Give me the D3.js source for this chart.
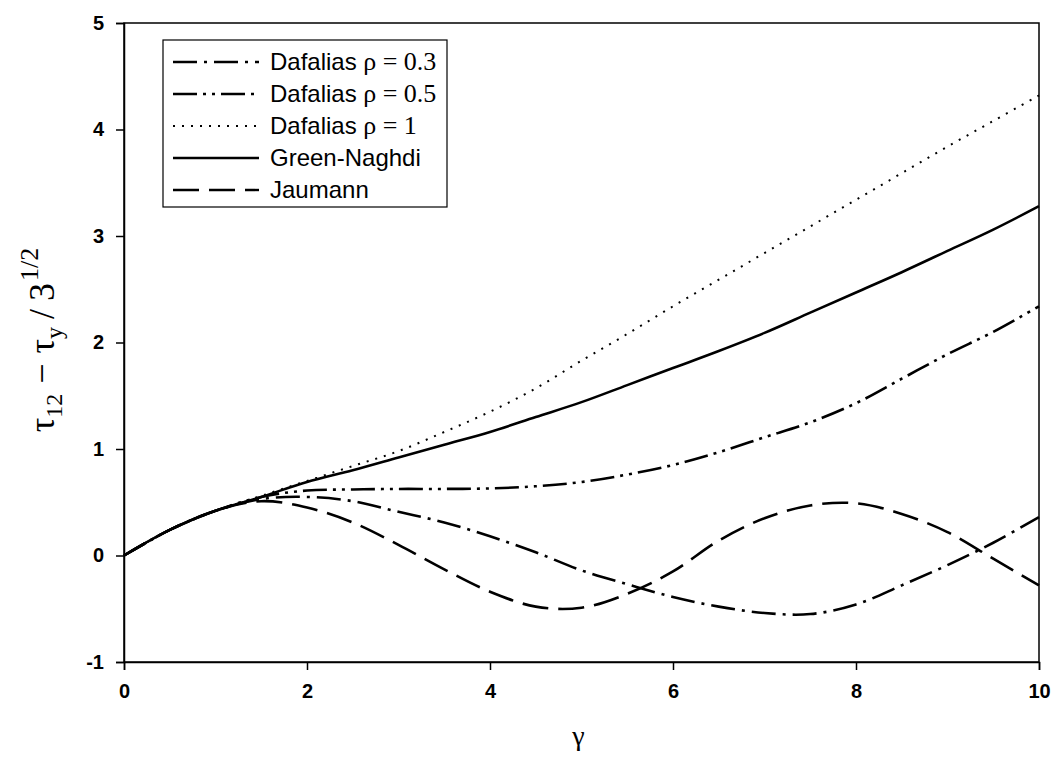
<!DOCTYPE html>
<html>
<head>
<meta charset="utf-8">
<script src="https://cdn.jsdelivr.net/npm/d3@7"></script>
<style>
  body { margin: 0; background: #fff; }
  svg { display: block; }
</style>
</head>
<body>
<svg id="chart" width="1053" height="758"></svg>
<script>
// gamma grid shared by every curve
const gamma = [0, 0.5, 1, 1.5, 2, 2.5, 3, 3.5, 4, 4.5, 5, 5.5, 6, 6.5, 7, 7.5, 8, 8.5, 9, 9.5, 10];

const dafalias03 = [0, 0.24, 0.42, 0.53, 0.55, 0.51, 0.41, 0.31, 0.18, 0.03, -0.14, -0.27, -0.39, -0.48, -0.54, -0.55, -0.46, -0.28, -0.09, 0.12, 0.36];
const dafalias05 = [0, 0.24, 0.42, 0.55, 0.61, 0.62, 0.625, 0.625, 0.63, 0.65, 0.69, 0.76, 0.85, 0.97, 1.11, 1.25, 1.43, 1.66, 1.89, 2.10, 2.34];
const dafalias1 = [0, 0.24, 0.42, 0.56, 0.70, 0.84, 0.98, 1.16, 1.35, 1.57, 1.83, 2.08, 2.34, 2.59, 2.84, 3.09, 3.34, 3.59, 3.84, 4.08, 4.32];
const greenNaghdi = [0, 0.24, 0.42, 0.55, 0.69, 0.80, 0.92, 1.04, 1.16, 1.30, 1.44, 1.60, 1.76, 1.92, 2.09, 2.28, 2.47, 2.66, 2.86, 3.06, 3.28];
const jaumann = [0, 0.24, 0.42, 0.51, 0.45, 0.31, 0.10, -0.13, -0.34, -0.48, -0.49, -0.36, -0.15, 0.14, 0.35, 0.47, 0.49, 0.39, 0.22, -0.03, -0.28];

const xTicks = [0, 2, 4, 6, 8, 10];
const yTicks = [-1, 0, 1, 2, 3, 4, 5];

const seriesNames = ['Dafalias', 'Dafalias', 'Dafalias', 'Green-Naghdi', 'Jaumann'];
const seriesRho = ['ρ = 0.3', 'ρ = 0.5', 'ρ = 1', null, null];
const seriesValues = [dafalias03, dafalias05, dafalias1, greenNaghdi, jaumann];
const seriesDash = ['24,7,3,7', '24,6,3,6,3,6', '2,7', null, '26,10'];

const svg = d3.select('#chart');
const margin = {top: 23, right: 14, bottom: 96, left: 124};
const width = 1053 - margin.left - margin.right;
const height = 758 - margin.top - margin.bottom;

const g = svg.append('g').attr('transform', `translate(${margin.left},${margin.top})`);

const x = d3.scaleLinear().domain([0, 10]).range([0, width]);
const y = d3.scaleLinear().domain([-1, 5]).range([height, 0]);

// frame
g.append('rect')
    .attr('width', width).attr('height', height)
    .attr('fill', 'none').attr('stroke', '#000').attr('stroke-width', 1.5);

let xaxis = g.append('g')
    .attr('transform', `translate(0,${height})`)
    .call(d3.axisBottom(x).tickValues(xTicks).tickSize(8).tickPadding(14).tickFormat(d => String(d)));
let yaxis = g.append('g')
    .call(d3.axisLeft(y).tickValues(yTicks).tickSize(8).tickPadding(12).tickFormat(d => String(d)));

for (let ax of [xaxis, yaxis]) {
    ax.select('.domain').attr('stroke', '#000').attr('stroke-width', 1.5);
    ax.selectAll('.tick line').attr('stroke', '#000').attr('stroke-width', 1.5);
    ax.selectAll('.tick text')
        .attr('fill', '#000')
        .attr('font-family', 'Liberation Sans, Arial, sans-serif')
        .attr('font-weight', 'bold')
        .attr('font-size', 20);
}

// curves
const line = d3.line()
    .x((d, i) => x(gamma[i]))
    .y(d => y(d))
    .curve(d3.curveCatmullRom.alpha(0.5));

seriesValues.forEach((vals, k) => {
    g.append('path')
        .datum(vals)
        .attr('d', line)
        .attr('fill', 'none')
        .attr('stroke', '#000')
        .attr('stroke-width', k == 2 ? 2 : 2.6)
        .attr('stroke-dasharray', seriesDash[k]);
});

// legend
const lg = svg.append('g').attr('transform', 'translate(163,40)');
lg.append('rect')
    .attr('width', 284).attr('height', 167)
    .attr('fill', '#fff').attr('stroke', '#000').attr('stroke-width', 1.2);

seriesNames.forEach((name, k) => {
    let cy = 22 + k * 32;
    lg.append('line')
        .attr('x1', 10).attr('x2', 96)
        .attr('y1', cy).attr('y2', cy)
        .attr('stroke', '#000')
        .attr('stroke-width', k == 2 ? 2 : 2.4)
        .attr('stroke-dasharray', seriesDash[k]);
    let t = lg.append('text')
        .attr('x', 107).attr('y', cy + 8)
        .attr('font-family', 'Liberation Sans, Arial, sans-serif')
        .attr('font-size', 24)
        .text(name);
    if (seriesRho[k]) {
        t.append('tspan')
            .attr('font-family', 'Liberation Serif, Times New Roman, serif')
            .attr('font-size', 26)
            .text(' ' + seriesRho[k]);
    }
});

// axis titles
svg.append('text')
    .attr('x', margin.left + width / 2 - 3).attr('y', 745)
    .attr('text-anchor', 'middle')
    .attr('font-family', 'Liberation Serif, Times New Roman, serif')
    .attr('font-size', 28)
    .text('γ');

let yl = svg.append('text')
    .attr('transform', 'translate(54,340) rotate(-90)')
    .attr('text-anchor', 'middle')
    .attr('font-family', 'Liberation Serif, Times New Roman, serif')
    .attr('font-size', 36);
yl.append('tspan').text('τ');
yl.append('tspan').attr('font-size', 24).attr('dy', 8).text('12');
yl.append('tspan').attr('dy', -8).attr('dx', 10).text('−');
yl.append('tspan').attr('dx', 10).text('τ');
yl.append('tspan').attr('font-size', 24).attr('dy', 8).text('y');
yl.append('tspan').attr('dy', -8).attr('dx', 8).text('/');
yl.append('tspan').attr('dx', 8).text('3');
yl.append('tspan').attr('font-size', 26).attr('dy', -16).attr('dx', 2).text('1/2');
</script>
</body>
</html>
